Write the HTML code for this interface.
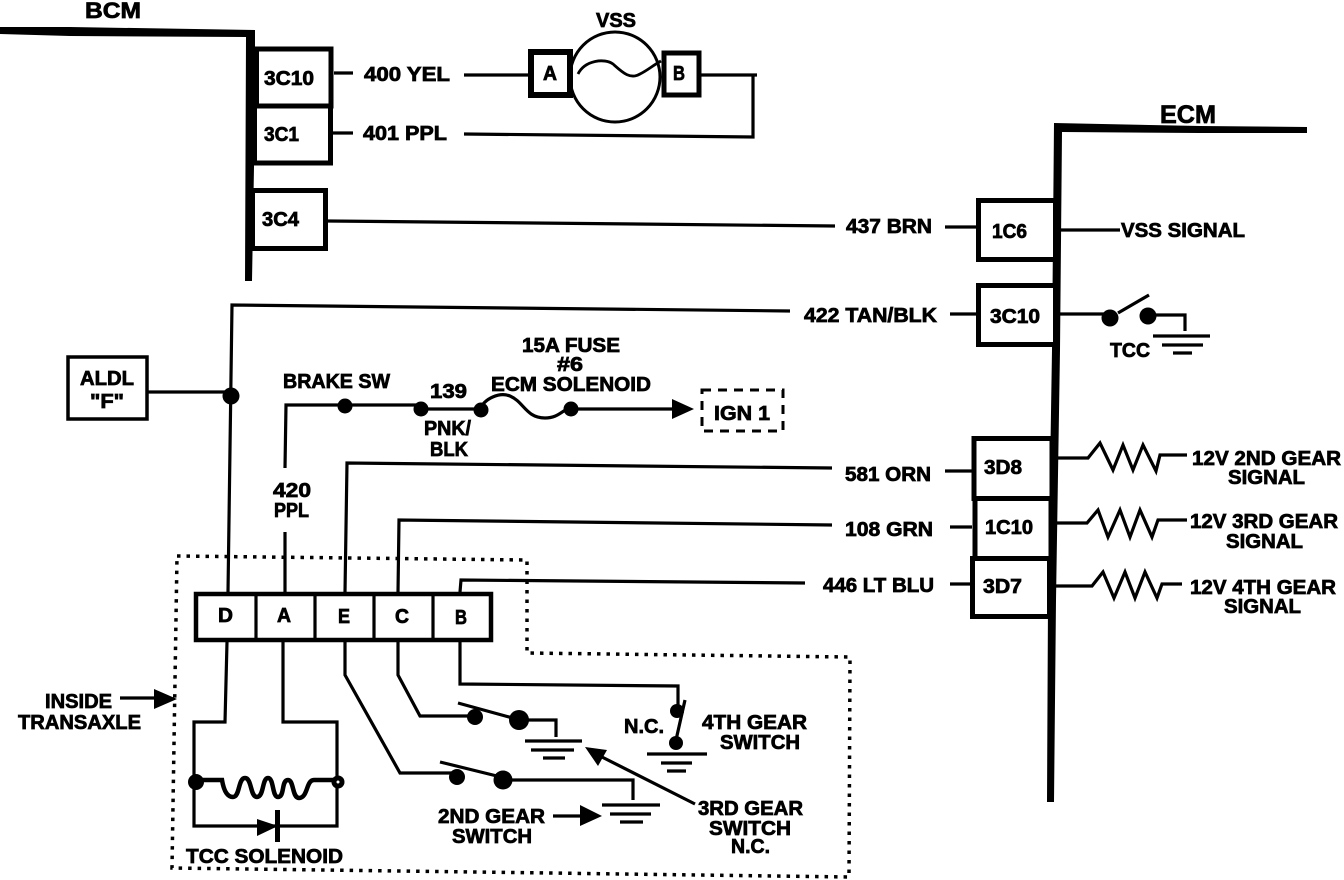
<!DOCTYPE html>
<html><head><meta charset="utf-8"><title>Wiring diagram</title>
<style>
html,body{margin:0;padding:0;background:#fff}
svg{display:block}
text{font-family:"Liberation Sans",sans-serif;font-weight:bold;fill:#000;stroke:#000;stroke-width:.75px;font-size:20px}
.l{fill:none;stroke:#000;stroke-width:3.2;stroke-linejoin:miter}
.b{fill:#fff;stroke:#000}
</style></head><body>
<svg width="1344" height="880" viewBox="0 0 1344 880" xmlns="http://www.w3.org/2000/svg">
<rect width="1344" height="880" fill="#fff"/>
<!-- dotted transaxle boundary -->
<path d="M177 556L527 560V653L850 657L849 877L172 868Z" fill="none" stroke="#000" stroke-width="3.5" stroke-dasharray="3.5 6"/>
<!-- BCM -->
<path d="M0 27L70 27L255 30V110L252 281H245L246 37L70 36L0 34Z" fill="#000"/>
<rect class="b" x="256.500" y="49" width="74.500" height="57" stroke-width="5"/>
<rect class="b" x="254.500" y="106" width="76" height="57" stroke-width="5"/>
<rect class="b" x="252.500" y="190.500" width="73" height="58" stroke-width="5"/>
<text x="264" y="85" textLength="50" lengthAdjust="spacingAndGlyphs">3C10</text>
<text x="264" y="141" textLength="35" lengthAdjust="spacingAndGlyphs">3C1</text>
<text x="262" y="226" textLength="37" lengthAdjust="spacingAndGlyphs">3C4</text>
<text x="85" y="18" style="font-size:22px" textLength="56" lengthAdjust="spacingAndGlyphs">BCM</text>
<path class="l" d="M334 73H353M333 133H353M464 75H530M464 134L753 137V75M701 75H757"/>
<path class="l" d="M328 221L835 226"/>
<text x="364" y="81" textLength="86" lengthAdjust="spacingAndGlyphs">400 YEL</text>
<text x="363" y="140" textLength="84" lengthAdjust="spacingAndGlyphs">401 PPL</text>
<!-- VSS -->
<circle cx="615" cy="77" r="45" fill="#fff" stroke="#000" stroke-width="3"/>
<rect class="b" x="531" y="52" width="39" height="43" stroke-width="6"/>
<rect class="b" x="664" y="53" width="35" height="42" stroke-width="5"/>
<path d="M578 74C585 60 605 58 613 64C622 72 630 80 640 74C648 70 652 66 661 61" fill="none" stroke="#000" stroke-width="2.800"/>
<text x="596" y="27" textLength="40" lengthAdjust="spacingAndGlyphs">VSS</text>
<text x="543" y="80" textLength="14" lengthAdjust="spacingAndGlyphs">A</text>
<text x="673" y="80" textLength="12" lengthAdjust="spacingAndGlyphs">B</text>
<!-- ECM -->
<path d="M1054 123L1200 126L1307 127V133L1200 133L1062 132L1060 350L1056 600L1054 802H1047L1048 600L1052 350Z" fill="#000"/>
<text x="1160" y="123" style="font-size:25px" textLength="56" lengthAdjust="spacingAndGlyphs">ECM</text>
<rect class="b" x="978.500" y="200.500" width="77" height="59" stroke-width="5"/>
<rect class="b" x="978.500" y="285.500" width="77" height="59" stroke-width="5"/>
<rect class="b" x="974" y="438.500" width="78" height="60" stroke-width="5"/>
<rect class="b" x="975" y="498.500" width="76" height="60" stroke-width="5"/>
<rect class="b" x="972.500" y="558.500" width="77" height="58" stroke-width="5"/>
<text x="992" y="238" textLength="35" lengthAdjust="spacingAndGlyphs">1C6</text>
<text x="990" y="323" textLength="50" lengthAdjust="spacingAndGlyphs">3C10</text>
<text x="984" y="474" textLength="38" lengthAdjust="spacingAndGlyphs">3D8</text>
<text x="985" y="534" textLength="48" lengthAdjust="spacingAndGlyphs">1C10</text>
<text x="983" y="593" textLength="39" lengthAdjust="spacingAndGlyphs">3D7</text>
<text x="846" y="233" textLength="86" lengthAdjust="spacingAndGlyphs">437 BRN</text>
<text x="804" y="322" textLength="133" lengthAdjust="spacingAndGlyphs">422 TAN/BLK</text>
<text x="845" y="481" textLength="86" lengthAdjust="spacingAndGlyphs">581 ORN</text>
<text x="845" y="536" textLength="88" lengthAdjust="spacingAndGlyphs">108 GRN</text>
<text x="823" y="592" textLength="111" lengthAdjust="spacingAndGlyphs">446 LT BLU</text>
<text x="1121" y="237" textLength="124" lengthAdjust="spacingAndGlyphs">VSS SIGNAL</text>
<path class="l" d="M945 227H976M1060 230H1120M950 314H976M945 471H972M950 527H972M950 584H970"/>
<!-- TCC switch -->
<path class="l" d="M1060 314H1110M1118 313L1149 295M1148 315H1185V331"/>
<circle cx="1110" cy="318" r="8.500"/><circle cx="1148" cy="316" r="8.500"/>
<path class="l" d="M1153 336H1210M1162 345H1203M1173 353H1192"/>
<text x="1110" y="357" textLength="40" lengthAdjust="spacingAndGlyphs">TCC</text>
<!-- resistors -->
<path class="l" d="M1056 458H1088L1100 443L1113 470L1123 445L1133 470L1143 445L1156 471L1160 455H1187"/>
<path class="l" d="M1056 523H1087L1098 510L1108 537L1120 510L1130 537L1140 510L1152 537L1158 520H1187"/>
<path class="l" d="M1054 586H1092L1103 572L1114 598L1125 572L1135 598L1145 572L1157 598L1162 584H1182"/>
<text x="1192" y="465" textLength="149" lengthAdjust="spacingAndGlyphs">12V 2ND GEAR</text>
<text x="1228" y="484" textLength="77" lengthAdjust="spacingAndGlyphs">SIGNAL</text>
<text x="1190" y="528" textLength="148" lengthAdjust="spacingAndGlyphs">12V 3RD GEAR</text>
<text x="1226" y="548" textLength="77" lengthAdjust="spacingAndGlyphs">SIGNAL</text>
<text x="1190" y="594" textLength="146" lengthAdjust="spacingAndGlyphs">12V 4TH GEAR</text>
<text x="1224" y="613" textLength="77" lengthAdjust="spacingAndGlyphs">SIGNAL</text>
<!-- ALDL and long wires -->
<rect class="b" x="68" y="357" width="79" height="62" stroke-width="3.500"/>
<text x="80" y="385" textLength="54" lengthAdjust="spacingAndGlyphs">ALDL</text>
<text x="90" y="408" textLength="34" lengthAdjust="spacingAndGlyphs">"F"</text>
<path class="l" d="M148 392H231"/>
<path class="l" d="M790 311L232 305L228 592"/>
<circle cx="231" cy="396" r="8.500"/>
<path class="l" d="M285 468L286 405H345L418 405M418 409H480M567 409H672"/>
<path class="l" d="M480 410C484 398 500 392 510 396C524 402 526 418 545 418C556 418 560 413 567 409" stroke-width="2.800"/>
<circle cx="345" cy="406" r="7.500"/><circle cx="421" cy="409" r="7.500"/><circle cx="481" cy="410" r="7.500"/><circle cx="571" cy="409" r="7.500"/>
<path d="M672 399L694 409L672 419Z"/>
<rect x="702" y="390" width="81" height="41" fill="none" stroke="#000" stroke-width="3" stroke-dasharray="9 7"/>
<text x="714" y="420" textLength="56" lengthAdjust="spacingAndGlyphs">IGN 1</text>
<text x="283" y="388" textLength="107" lengthAdjust="spacingAndGlyphs">BRAKE SW</text>
<text x="430" y="398" textLength="37" lengthAdjust="spacingAndGlyphs">139</text>
<text x="522" y="352" textLength="98" lengthAdjust="spacingAndGlyphs">15A FUSE</text>
<text x="557" y="371" textLength="26" lengthAdjust="spacingAndGlyphs">#6</text>
<text x="491" y="391" textLength="160" lengthAdjust="spacingAndGlyphs">ECM SOLENOID</text>
<text x="424" y="435" textLength="47" lengthAdjust="spacingAndGlyphs">PNK/</text>
<text x="430" y="456" textLength="38" lengthAdjust="spacingAndGlyphs">BLK</text>
<text x="273" y="497" textLength="38" lengthAdjust="spacingAndGlyphs">420</text>
<text x="274" y="517" textLength="35" lengthAdjust="spacingAndGlyphs">PPL</text>
<path class="l" d="M285 532V592M345 592L347 463L832 468M398 592L399 520L832 525M460 592L461 580L805 583"/>
<!-- connector -->
<rect class="b" x="196" y="594" width="295" height="46" stroke-width="4.500"/>
<path class="l" d="M256 594V640M315 594V640M374 594V640M433 594V640" stroke-width="4"/>
<text x="218" y="622" textLength="15" lengthAdjust="spacingAndGlyphs">D</text>
<text x="277" y="622" textLength="14" lengthAdjust="spacingAndGlyphs">A</text>
<text x="338" y="623" textLength="12" lengthAdjust="spacingAndGlyphs">E</text>
<text x="395" y="623" textLength="14" lengthAdjust="spacingAndGlyphs">C</text>
<text x="455" y="624" textLength="12" lengthAdjust="spacingAndGlyphs">B</text>
<!-- solenoid -->
<path class="l" d="M227 642L225 722H194V826H337V722H283V642"/>
<path d="M196 780H222C224 792 228 797 233 797C240 797 238 778 245 778C252 778 250 797 257 797C264 797 262 778 268 778C274 778 272 797 278 797C285 797 281 780 288 780C294 780 292 798 299 798C308 798 306 780 314 780H338" fill="none" stroke="#000" stroke-width="4.500"/>
<circle cx="196" cy="782" r="8"/><circle cx="338" cy="782" r="6.500"/><circle cx="338" cy="782" r="1.500" fill="#fff"/>
<path d="M257 819L278 826L257 836Z"/>
<rect x="275" y="810" width="5" height="32"/>
<text x="186" y="863" textLength="157" lengthAdjust="spacingAndGlyphs">TCC  SOLENOID</text>
<!-- gear switches -->
<path class="l" d="M345 642V675L400 773H457M440 762L505 778M503 780H633V800"/>
<circle cx="457" cy="777" r="8"/><circle cx="503" cy="780" r="9.500"/>
<path class="l" d="M602 805H660M610 814H651M620 822H643"/>
<path class="l" d="M398 642V675L420 716H475M458 703L520 720M519 720H556V737"/>
<circle cx="475" cy="717" r="8"/><circle cx="519" cy="720" r="10"/>
<path class="l" d="M525 741H582M531 750H574M543 758H565"/>
<path class="l" d="M460 642V684L678 686V710M685 700L676 740"/>
<circle cx="677" cy="711" r="7"/><circle cx="676" cy="743" r="7"/>
<path class="l" d="M647 754H707M661 763H692M667 771H686"/>
<text x="624" y="733" textLength="40" lengthAdjust="spacingAndGlyphs">N.C.</text>
<text x="702" y="729" textLength="105" lengthAdjust="spacingAndGlyphs">4TH GEAR</text>
<text x="720" y="749" textLength="80" lengthAdjust="spacingAndGlyphs">SWITCH</text>
<text x="698" y="815" textLength="105" lengthAdjust="spacingAndGlyphs">3RD GEAR</text>
<text x="709" y="835" textLength="82" lengthAdjust="spacingAndGlyphs">SWITCH</text>
<text x="731" y="853" textLength="39" lengthAdjust="spacingAndGlyphs">N.C.</text>
<path class="l" d="M695 804L600 756"/>
<path d="M585 747L607 750L598 766Z"/>
<text x="438" y="823" textLength="107" lengthAdjust="spacingAndGlyphs">2ND GEAR</text>
<text x="452" y="843" textLength="80" lengthAdjust="spacingAndGlyphs">SWITCH</text>
<path class="l" d="M553 816H582"/>
<path d="M580 805L602 816L580 826Z"/>
<text x="45" y="708" textLength="67" lengthAdjust="spacingAndGlyphs">INSIDE</text>
<text x="18" y="729" textLength="123" lengthAdjust="spacingAndGlyphs">TRANSAXLE</text>
<path class="l" d="M120 698H156"/>
<path d="M154 689L177 699L154 709Z"/>
</svg>
</body></html>
